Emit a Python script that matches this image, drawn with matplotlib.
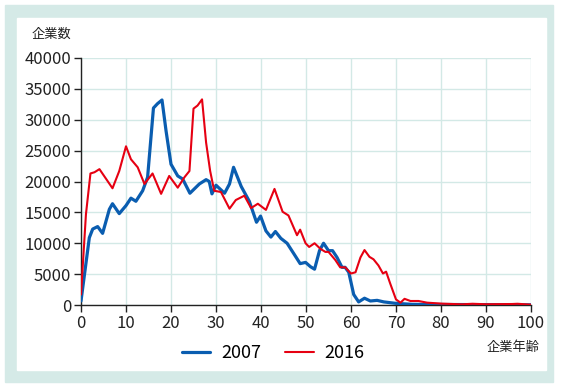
import numpy as np
import matplotlib.pyplot as plt
from matplotlib.patches import Rectangle

plt.rcParams["font.family"] = ["Noto Sans CJK JP", "DejaVu Sans"]

# 企業年齢 vs 企業数
age_2007 = [0, 1.85, 2.6, 3.7, 4.8, 6.3, 7, 8.5, 10, 11.1, 12.2, 13.7, 14.8, 16.1,
            17, 18, 18.9, 20, 21.5, 22.6, 24.2, 26.3, 27.8, 28.5, 29.1, 30, 31.9,
            33, 33.9, 35.6, 37.4, 39, 39.9, 41.1, 42.2, 43.2, 44.4, 45.8, 47.3,
            48.7, 49.9, 51, 51.9, 53, 53.9, 55, 55.9, 56.9, 58, 58.7, 59.5, 60.6,
            61.7, 63, 64.3, 65.8, 67.3, 69.9, 73.6, 80, 90, 100]
count_2007 = [650, 10900, 12300, 12700, 11600, 15500, 16400, 14800, 16100, 17300,
              16800, 18500, 20700, 31900, 32600, 33200, 28200, 22800, 20900, 20400,
              18100, 19600, 20300, 20000, 18000, 19400, 18100, 19600, 22300, 19200,
              16800, 13400, 14400, 12000, 11000, 11900, 10800, 10000, 8300, 6700,
              6900, 6200, 5800, 8800, 10000, 8800, 8800, 7700, 6100, 6100, 5300,
              1700, 500, 1100, 650, 750, 500, 270, 110, 80, 60, 30]

age_2016 = [0, 1.1, 2.1, 3, 4.1, 5.6, 7, 8.5, 10, 11.1, 12.6, 14.1, 15.9, 17.8,
            19.6, 21.5, 23, 24.1, 25, 25.9, 26.9, 27.8, 28.7, 29.6, 31.1, 33,
            34.4, 36.3, 37.8, 39.3, 41.1, 43, 44.8, 46.1, 48, 48.7, 49.9, 50.7,
            51.9, 53.2, 54.3, 55, 56.5, 57.6, 58.7, 60, 61, 62.1, 63, 64.1, 65,
            66.1, 67.1, 67.8, 68.7, 70, 71, 71.9, 73.2, 75, 76.9, 80.2, 84.7,
            87, 90, 95.8, 97, 100]
count_2016 = [1700, 14700, 21300, 21500, 22000, 20400, 18900, 21700, 25700, 23600,
              22300, 19600, 21300, 18000, 20900, 19000, 20700, 21700, 31800, 32300,
              33300, 26300, 21700, 18500, 18300, 15600, 17000, 17700, 15700, 16400,
              15400, 18800, 15100, 14500, 11300, 12200, 10000, 9400, 10000, 9100,
              8600, 8600, 7300, 6100, 6100, 5100, 5300, 7700, 8900, 7800, 7400,
              6400, 5100, 5400, 3500, 900, 380, 1000, 650, 650, 380, 220, 110,
              200, 120, 160, 200, 50]

years = ["2007", "2016"]
yticks = np.arange(0, 40001, 5000)
xticks = np.arange(0, 101, 10)

grid_c = "#d3e9e6"
blue = "#0a5db0"
red = "#e60012"

fig = plt.figure(figsize=(5.64, 3.88), dpi=100)
W, H = 564, 388
fig.patches.append(Rectangle((5 / W, 1 - 382 / H), 548 / W, 377 / H,
                             transform=fig.transFigure, color="#d5eae7", zorder=-2))
fig.patches.append(Rectangle((17 / W, 1 - 370 / H), 529 / W, 352 / H,
                             transform=fig.transFigure, color="white", zorder=-1))

ax = fig.add_axes([81 / W, 1 - 305 / H, 450 / W, 247 / H])
ax.set_zorder(2)
ax.set_facecolor("none")
ax.plot(age_2007, count_2007, color=blue, lw=2.3, label=years[0], zorder=3,
        solid_joinstyle="round", solid_capstyle="round")
ax.plot(age_2016, count_2016, color=red, lw=1.5, label=years[1], zorder=4,
        solid_joinstyle="round", solid_capstyle="round")

ax.set_xlim(0, 100)
ax.set_ylim(0, 40000)
ax.set_xticks(xticks)
ax.set_yticks(yticks)
ax.grid(color=grid_c, lw=1)
ax.set_axisbelow(True)
for s in ["top", "right"]:
    ax.spines[s].set_visible(False)
for s in ["left", "bottom"]:
    ax.spines[s].set_color("#222222")
    ax.spines[s].set_linewidth(1)
ax.tick_params(axis="both", labelsize=12, colors="#222222", length=5, width=1, pad=2)

fig.text(51 / W, 1 - 34 / H, "企業数", ha="center", va="center", fontsize=9.5, color="#222222")
fig.text(513 / W, 1 - 348 / H, "企業年齢", ha="center", va="center", fontsize=9.5, color="#222222")

fig.legend(loc="center", bbox_to_anchor=(273 / W, 1 - 353 / H), ncol=2, frameon=False,
           fontsize=13, handlelength=1.6, columnspacing=1.3, handletextpad=0.6)

fig.savefig("out.png", dpi=100)
